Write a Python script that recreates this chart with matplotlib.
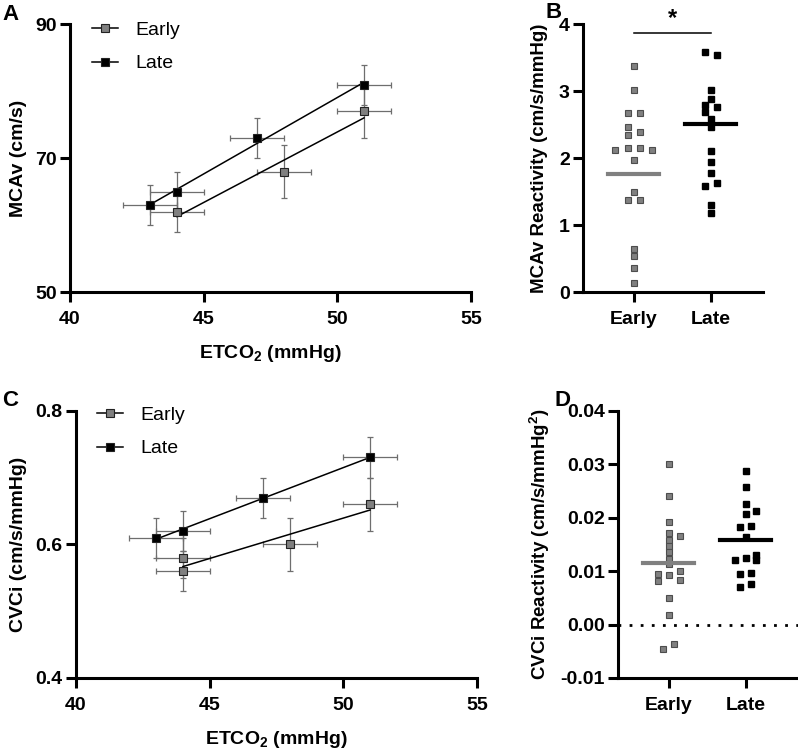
import numpy as np
import matplotlib
matplotlib.use("Agg")
import matplotlib.pyplot as plt
from matplotlib.ticker import FormatStrFormatter

plt.rcParams['font.family'] = ['Liberation Sans', 'DejaVu Sans']
plt.rcParams['mathtext.fontset'] = 'custom'
plt.rcParams['mathtext.bf'] = 'Liberation Sans:bold'
plt.rcParams['mathtext.rm'] = 'Liberation Sans:bold'

# Panel A: MCAv vs ETCO2 (mean +- SD)
a_early_x = [44, 48, 51]
a_early_y = [62, 68, 77]
a_early_xerr = [1, 1, 1]
a_early_yerr = [3, 4, 4]
a_late_x = [43, 44, 47, 51]
a_late_y = [63, 65, 73, 81]
a_late_xerr = [1, 1, 1, 1]
a_late_yerr = [3, 3, 3, 3]

# Panel C: CVCi vs ETCO2
c_early_x = [44, 44, 48, 51]
c_early_y = [0.58, 0.56, 0.60, 0.66]
c_early_xerr = [1, 1, 1, 1]
c_early_yerr = [0.03, 0.03, 0.04, 0.04]
c_late_x = [43, 44, 47, 51]
c_late_y = [0.61, 0.62, 0.67, 0.73]
c_late_xerr = [1, 1, 1, 1]
c_late_yerr = [0.03, 0.03, 0.03, 0.03]

# Panel B: MCAv reactivity, individual subjects
b_early = [3.38, 3.02, 2.68, 2.68, 2.46, 2.39, 2.34, 2.15, 2.15, 2.12, 2.12,
           1.97, 1.49, 1.37, 1.37, 0.65, 0.54, 0.36, 0.14]
b_early_jit = [0, 0, -0.08, 0.08, -0.08, 0.08, -0.08, -0.08, 0.08, -0.24, 0.24,
               0, 0, -0.08, 0.08, 0, 0, 0, 0]
b_late = [3.59, 3.54, 3.02, 2.89, 2.80, 2.77, 2.69, 2.58, 2.46, 2.11, 1.95,
          1.78, 1.63, 1.58, 1.30, 1.18]
b_late_jit = [-0.08, 0.08, 0, 0, -0.08, 0.08, -0.08, 0, 0, 0, 0,
              0, 0.08, -0.08, 0, 0]
b_centre = [1.77, 2.51]

# Panel D: CVCi reactivity
d_early = [0.0301, 0.0240, 0.0191, 0.0171, 0.0166, 0.0158, 0.0146, 0.0135, 0.0123,
           0.0113, 0.0095, 0.0100, 0.0092, 0.0084, 0.0082, 0.0049, 0.0018,
           -0.0037, -0.0045]
d_early_jit = [0, 0, 0, 0, 0.15, 0, 0, 0, 0,
               0, -0.14, 0.15, 0, 0.15, -0.14, 0, 0,
               0.07, -0.07]
d_late = [0.0287, 0.0258, 0.0225, 0.0206, 0.0213, 0.0183, 0.0184, 0.0163,
          0.0125, 0.0120, 0.0131, 0.0120, 0.0095, 0.0096, 0.0070, 0.0075]
d_late_jit = [0, 0, 0, 0, 0.14, -0.07, 0.07, 0,
              0, -0.14, 0.14, 0.14, -0.07, 0.07, -0.07, 0.07]
d_centre = [0.0116, 0.0159]

groups = ['Early', 'Late']
GREY = '#808080'
ERR = '#6e6e6e'
LABEL_FS = 14
TICK_FS = 14

fig = plt.figure(figsize=(7.98, 7.54), dpi=100)
axA = fig.add_axes([0.0877, 0.6127, 0.5025, 0.355])
axB = fig.add_axes([0.7306, 0.6127, 0.2256, 0.355])
axC = fig.add_axes([0.0952, 0.1008, 0.5025, 0.3545])
axD = fig.add_axes([0.7744, 0.1008, 0.2256, 0.3545])


def style(ax):
    for s in ['top', 'right']:
        ax.spines[s].set_visible(False)
    for s in ['left', 'bottom']:
        ax.spines[s].set_linewidth(2.2)
    ax.tick_params(width=2.2, length=7, labelsize=TICK_FS, direction='out')
    ax.tick_params(axis='x', pad=6.5)
    ax.tick_params(axis='y', pad=2.5)
    for lab in ax.get_xticklabels() + ax.get_yticklabels():
        lab.set_fontweight('bold')


def xy_panel(ax, ex, ey, exe, eye, lx, ly, lxe, lye, leg_anchor):
    for x, y, xe, ye, fc, lab in [(ex, ey, exe, eye, GREY, 'Early'),
                                  (lx, ly, lxe, lye, 'black', 'Late')]:
        ax.errorbar(x, y, xerr=xe, yerr=ye, fmt='none', ecolor=ERR,
                    elinewidth=0.9, capsize=2.5, capthick=0.9, zorder=2)
        k, b = np.polyfit(x, y, 1)
        xs = np.array([min(x), max(x)])
        ax.plot(xs, k * xs + b, color='black', lw=1.1, zorder=3)
        ax.plot(x, y, 's', ms=5.8, mfc=fc, mec='#222222', mew=0.8,
                zorder=4)
        # legend handle: line through marker
        ax.plot([], [], '-s', color='black', lw=1.1, ms=5.8, mfc=fc,
                mec='#222222', mew=0.8, label=lab)
    ax.legend(loc='upper left', bbox_to_anchor=leg_anchor, frameon=False,
              fontsize=14, handlelength=1.35, handletextpad=0.9,
              labelspacing=0.8, borderpad=0, borderaxespad=0)
    ax.set_xlim(40, 55)
    ax.set_xticks([40, 45, 50, 55])
    ax.set_xlabel(r'ETCO$_\mathbf{2}$ (mmHg)', fontsize=LABEL_FS,
                  fontweight='bold', labelpad=11)


def dot_panel(ax, early, ejit, late, ljit, centre):
    ax.plot(np.array(ejit), early, 's', ms=4.5, mfc=GREY, mec='#4d4d4d',
            mew=0.8, zorder=3)
    ax.plot(1 + np.array(ljit), late, 's', ms=4.5, mfc='black', mec='black',
            zorder=3)
    ax.plot([-0.33, 0.33], [centre[0]] * 2, color=GREY, lw=3, zorder=4)
    ax.plot([0.67, 1.33], [centre[1]] * 2, color='black', lw=3, zorder=4)
    ax.set_xlim(-0.66, 1.68)
    ax.set_xticks([0, 1])
    ax.set_xticklabels(groups)


xy_panel(axA, a_early_x, a_early_y, a_early_xerr, a_early_yerr,
         a_late_x, a_late_y, a_late_xerr, a_late_yerr, (0.055, 1.01))
axA.set_ylim(50, 90)
axA.set_yticks([50, 70, 90])
axA.set_ylabel('MCAv (cm/s)', fontsize=LABEL_FS, fontweight='bold', labelpad=6)

xy_panel(axC, c_early_x, c_early_y, c_early_xerr, c_early_yerr,
         c_late_x, c_late_y, c_late_xerr, c_late_yerr, (0.052, 1.015))
axC.set_ylim(0.4, 0.8)
axC.set_yticks([0.4, 0.6, 0.8])
axC.yaxis.set_major_formatter(FormatStrFormatter('%.1f'))
axC.set_ylabel('CVCi (cm/s/mmHg)', fontsize=LABEL_FS, fontweight='bold',
               labelpad=6)

dot_panel(axB, b_early, b_early_jit, b_late, b_late_jit, b_centre)
axB.set_ylim(0, 4)
axB.set_yticks([0, 1, 2, 3, 4])
axB.set_ylabel('MCAv Reactivity (cm/s/mmHg)', fontsize=13.5,
               fontweight='bold', labelpad=8)
axB.plot([0, 1], [3.87, 3.87], color='black', lw=1.1, clip_on=False)
axB.text(0.5, 3.92, '*', ha='center', va='bottom', fontsize=17,
         fontweight='bold')

dot_panel(axD, d_early, d_early_jit, d_late, d_late_jit, d_centre)
axD.set_ylim(-0.01, 0.04)
axD.set_yticks([-0.01, 0, 0.01, 0.02, 0.03, 0.04])
axD.yaxis.set_major_formatter(FormatStrFormatter('%.2f'))
axD.axhline(0, color='black', lw=2, ls=(0, (1, 3)), zorder=1)
axD.set_ylabel(r'CVCi Reactivity (cm/s/mmHg$^\mathbf{2}$)', fontsize=13.5,
               fontweight='bold', labelpad=6)

for ax in [axA, axB, axC, axD]:
    style(ax)

for lab, x, y in [('A', 0.003, 0.981), ('B', 0.683, 0.983),
                  ('C', 0.003, 0.469), ('D', 0.695, 0.469)]:
    fig.text(x, y, lab, fontsize=16, fontweight='bold', va='center')

fig.savefig('out.png', dpi=100)
